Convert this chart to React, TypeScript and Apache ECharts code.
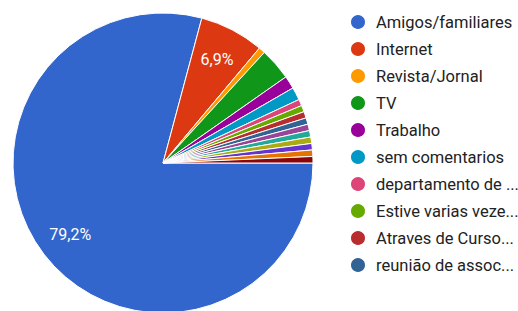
import React, { useEffect, useRef } from "react";
import * as echarts from "echarts";

const categories = [
  "Amigos/familiares",
  "Internet",
  "Revista/Jornal",
  "TV",
  "Trabalho",
  "sem comentarios",
  "departamento de turismo",
  "Estive varias vezes na cidade",
  "Atraves de Cursos e palestras",
  "reunião de associação",
  "Escola",
  "Evento",
  "Feira",
  "Rádio",
  "Folheto",
  "Outros",
];
const values = [114, 10, 1, 5, 2, 2, 1, 1, 1, 1, 1, 1, 1, 1, 1, 1];
const colors = [
  "#3366cc", "#dc3912", "#ff9900", "#109618", "#990099", "#0099c6",
  "#dd4477", "#66aa00", "#b82e2e", "#316395", "#994499", "#22aa99",
  "#aaaa11", "#6633cc", "#e67300", "#8b0707",
];
const legendShown = categories.slice(0, 10);

export default function App() {
  const ref = useRef<HTMLDivElement>(null);
  useEffect(() => {
    if (!ref.current) return;
    const chart = echarts.init(ref.current, null, { renderer: "svg" });
    const total = values.reduce((a, b) => a + b, 0);
    const data = categories.map((name, i) => ({
      name,
      value: values[i],
      itemStyle: { color: colors[i] },
    }));
    chart.setOption({
      animation: false,
      backgroundColor: "#ffffff",
      legend: {
        data: legendShown,
        orient: "vertical",
        left: 349,
        top: 13,
        padding: 0,
        icon: "circle",
        itemWidth: 16,
        itemHeight: 16,
        itemGap: 9,
        selectedMode: false,
        textStyle: {
          fontFamily: "Roboto",
          fontSize: 16.5,
          color: "#222222",
          lineHeight: 16,
          padding: [0, 0, 0, 5],
          width: 146,
          overflow: "truncate",
          ellipsis: "...",
        },
      },
      series: [
        {
          type: "pie",
          center: [163, 163],
          radius: [0, 150],
          startAngle: 0,
          clockwise: true,
          data,
          itemStyle: { borderColor: "#ffffff", borderWidth: 1 },
          label: { show: false },
          labelLine: { show: false },
          emphasis: { disabled: true },
        },
        {
          type: "pie",
          center: [163, 163],
          radius: [78, 150],
          startAngle: 0,
          clockwise: true,
          silent: true,
          data: categories.map((name, i) => ({
            name,
            value: values[i],
            itemStyle: { color: "rgba(0,0,0,0)" },
          })),
          label: {
            show: true,
            position: "inside",
            fontFamily: "Roboto",
            fontSize: 16,
            color: "#ffffff",
            formatter: (p: any) => {
              const pct = (p.value / total) * 100;
              return pct > 5 ? pct.toFixed(1).replace(".", ",") + "%" : "";
            },
          },
          labelLine: { show: false },
          emphasis: { disabled: true },
        },
      ],
    });
    return () => chart.dispose();
  }, []);
  return (
    <div
      ref={ref}
      style={{ position: "absolute", left: 0, top: 0, width: 518, height: 311 }}
    />
  );
}
